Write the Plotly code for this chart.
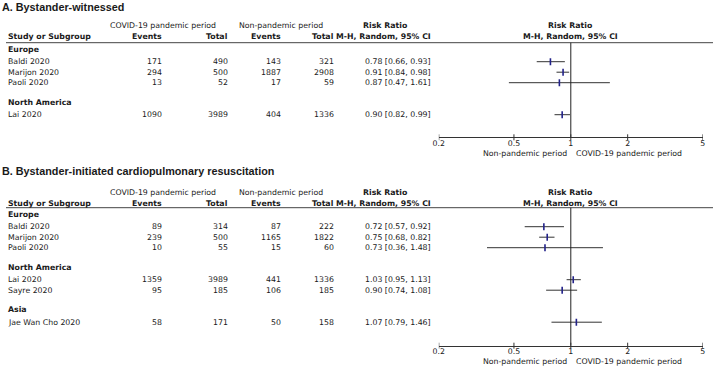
import math
import plotly.graph_objects as go

W, H = 716, 369

# ---------------- data ----------------
# Panel A: Bystander-witnessed
studies_a = ["Baldi 2020", "Marijon 2020", "Paoli 2020", "Lai 2020"]
groups_a = ["Europe", "Europe", "Europe", "North America"]
covid_events_a = [171, 294, 13, 1090]
covid_total_a = [490, 500, 52, 3989]
non_events_a = [143, 1887, 17, 404]
non_total_a = [321, 2908, 59, 1336]
rr_a = [0.78, 0.91, 0.87, 0.90]
lo_a = [0.66, 0.84, 0.47, 0.82]
hi_a = [0.93, 0.98, 1.61, 0.99]

# Panel B: Bystander-initiated CPR
studies_b = ["Baldi 2020", "Marijon 2020", "Paoli 2020", "Lai 2020", "Sayre 2020", "Jae Wan Cho 2020"]
groups_b = ["Europe", "Europe", "Europe", "North America", "North America", "Asia"]
covid_events_b = [89, 239, 10, 1359, 95, 58]
covid_total_b = [314, 500, 55, 3989, 185, 171]
non_events_b = [87, 1165, 15, 441, 106, 50]
non_total_b = [222, 1822, 60, 1336, 185, 158]
rr_b = [0.72, 0.75, 0.73, 1.03, 0.90, 1.07]
lo_b = [0.57, 0.68, 0.36, 0.95, 0.74, 0.79]
hi_b = [0.92, 0.82, 1.48, 1.13, 1.08, 1.46]

tick_vals = [0.2, 0.5, 1, 2, 5]
tick_text = ["0.2", "0.5", "1", "2", "5"]
x_min, x_max = 0.2, 5

# ---------------- style / layout ----------------
FONT = "DejaVu Sans"
TFONT = "Liberation Sans"
FS = 7.8
TXT = "#1a1a1a"
NAVY = "#22228a"
LINE = "#333333"
LEFT_SHIFT = -6  # calibration for left-anchored annotation text

# column anchors (pixels)
X_NAME = 8
X_CE, X_CT, X_NE, X_NT, X_RR = 158, 225, 278, 332, 430
X_COVID_HDR, X_NON_HDR, X_RR_HDR = 159, 278.5, 384
X_PLOT0, X_PLOT1 = 438.3, 705.7
X_PLOT_C = (X_PLOT0 + X_PLOT1) / 2

panels = [
    dict(title="A. Bystander-witnessed", studies=studies_a, groups=groups_a,
         ce=covid_events_a, ct=covid_total_a, ne=non_events_a, nt=non_total_a,
         rr=rr_a, lo=lo_a, hi=hi_a, xa="x", title_y=6.5, h1=25.7, h2=36.7,
         line_y=42.7, axis_y=137.3),
    dict(title="B. Bystander-initiated cardiopulmonary resuscitation", studies=studies_b,
         groups=groups_b, ce=covid_events_b, ct=covid_total_b, ne=non_events_b,
         nt=non_total_b, rr=rr_b, lo=lo_b, hi=hi_b, xa="x2", title_y=170.5,
         h1=192.3, h2=203.3, line_y=207.7, axis_y=345.7),
]

fig = go.Figure()


def ann(text, x, y, xanchor="left", bold=False, size=FS, family=FONT, xref="x3", xshift=0):
    if xanchor == "left" and xref == "x3":
        xshift += LEFT_SHIFT
    fig.add_annotation(text=f"<b>{text}</b>" if bold else text, x=x, y=y, xref=xref, yref="y",
                       xanchor=xanchor, yanchor="middle", showarrow=False, xshift=xshift,
                       borderpad=0, borderwidth=0,
                       font=dict(family=family, size=size, color=TXT))


for p in panels:
    # titles and header
    ann(p["title"], 2, p["title_y"], bold=True, size=10.8, family=TFONT)
    ann("COVID-19 pandemic period", X_COVID_HDR, p["h1"], "center")
    ann("Non-pandemic period", X_NON_HDR, p["h1"], "center")
    ann("Risk Ratio", X_RR_HDR, p["h1"], "center", bold=True)
    ann("Risk Ratio", X_PLOT_C, p["h1"], "center", bold=True)
    ann("Study or Subgroup", X_NAME, p["h2"], bold=True)
    ann("Events", X_CE, p["h2"], "right", bold=True)
    ann("Total", X_CT, p["h2"], "right", bold=True)
    ann("Events", X_NE, p["h2"], "right", bold=True)
    ann("Total", X_NT, p["h2"], "right", bold=True)
    ann("M-H, Random, 95% CI", X_RR, p["h2"], "right", bold=True)
    ann("M-H, Random, 95% CI", X_PLOT_C, p["h2"], "center", bold=True)
    fig.add_shape(type="line", xref="paper", yref="y", x0=0, x1=1, y0=p["line_y"], y1=p["line_y"],
                  line=dict(color="#444444", width=1))

    # rows
    ys = []
    y = p["line_y"] + 6.5
    prev_group = None
    for i, (s, g) in enumerate(zip(p["studies"], p["groups"])):
        if g != prev_group:
            if prev_group is not None:
                y += 19.5
            ann(g, X_NAME, y, bold=True)
            y += 12.5
            prev_group = g
        else:
            y += 10.5
        ys.append(y)
        ann(s, X_NAME, y)
        ann(str(p["ce"][i]), X_CE, y, "right")
        ann(str(p["ct"][i]), X_CT, y, "right")
        ann(str(p["ne"][i]), X_NE, y, "right")
        ann(str(p["nt"][i]), X_NT, y, "right")
        ann(f"{p['rr'][i]:.2f} [{p['lo'][i]:.2f}, {p['hi'][i]:.2f}]", X_RR, y, "right")

    # forest
    fig.add_trace(go.Scatter(
        x=p["rr"], y=ys, xaxis=p["xa"], yaxis="y", mode="markers",
        marker=dict(symbol="line-ns", size=5, color=NAVY, line=dict(width=1.6, color=NAVY)),
        error_x=dict(type="data", symmetric=False,
                     array=[h - r for h, r in zip(p["hi"], p["rr"])],
                     arrayminus=[r - l for r, l in zip(p["rr"], p["lo"])],
                     width=0, thickness=1, color=LINE),
        showlegend=False, hoverinfo="skip"))

    # line of no effect
    fig.add_shape(type="line", xref=p["xa"], yref="y", x0=1, x1=1, y0=p["line_y"], y1=p["axis_y"],
                  line=dict(color="#222222", width=1))
    # tick marks crossing the axis
    for v in tick_vals:
        fig.add_shape(type="line", xref=p["xa"], yref="y", x0=v, x1=v,
                      y0=p["axis_y"] - 3, y1=p["axis_y"] + 3, line=dict(color=LINE, width=1))
    # axis captions (annotation x on log axes is given in log10 units)
    ann("Non-pandemic period", math.log10(1), p["axis_y"] + 16, "right", xref=p["xa"], xshift=-4)
    ann("COVID-19 pandemic period", math.log10(1), p["axis_y"] + 16, "left", xref=p["xa"], xshift=5)

xaxis_common = dict(type="log", domain=[X_PLOT0 / W, X_PLOT1 / W],
                    range=[math.log10(x_min), math.log10(x_max)], anchor="free",
                    showline=True, linecolor=LINE, linewidth=1, ticks="",
                    ticklabelstandoff=-2,
                    tickvals=tick_vals, ticktext=tick_text, showgrid=False, zeroline=False,
                    tickfont=dict(family=FONT, size=FS, color=TXT), fixedrange=True)

fig.update_layout(
    width=W, height=H, margin=dict(l=0, r=0, t=0, b=0),
    paper_bgcolor="white", plot_bgcolor="rgba(0,0,0,0)",
    xaxis=dict(**xaxis_common, position=1 - panels[0]["axis_y"] / H),
    xaxis2=dict(**xaxis_common, position=1 - panels[1]["axis_y"] / H),
    xaxis3=dict(range=[0, W], domain=[0, 1], visible=False, anchor="y", fixedrange=True),
    yaxis=dict(range=[H, 0], domain=[0, 1], visible=False, anchor="x3", fixedrange=True),
)

fig.write_html("out.html", config={"displayModeBar": False},
               post_script="document.body.style.margin='0';document.body.style.overflow='hidden';")
